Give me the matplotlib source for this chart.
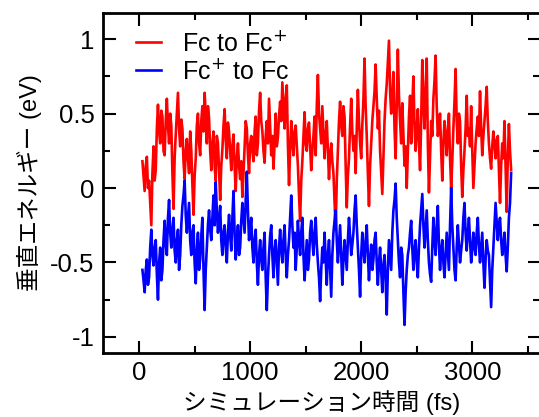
import numpy as np
import matplotlib
matplotlib.use("Agg")
import matplotlib.pyplot as plt
from matplotlib.ticker import MultipleLocator

plt.rcParams["font.family"] = ["Liberation Sans", "Noto Sans CJK JP", "DejaVu Sans"]

t_start_fs = 30
t_step_fs = 10

fc_to_fcp = [
    0.18, 0.08, -0.02, 0.15, 0.21, 0.00, 0.05, -0.10, -0.25, 0.10, 0.28, 0.05, 0.12, 0.40, 0.56, 0.38, 0.30, 0.52, 0.48, 0.25,
    0.22, 0.45, 0.60, 0.42, 0.30, 0.50, 0.42, 0.10, -0.14, 0.20, 0.36, 0.50, 0.64, 0.40, 0.28, 0.46, 0.40, 0.18, 0.06, 0.25,
    0.33, 0.20, 0.10, 0.38, 0.25, 0.02, -0.18, 0.08, 0.20, 0.42, 0.50, 0.30, 0.22, 0.45, 0.55, 0.38, 0.64, 0.50, 0.30, 0.55,
    0.47, 0.25, 0.12, 0.30, 0.38, 0.15, 0.05, 0.35, 0.30, 0.12, -0.08, 0.15, 0.26, 0.42, 0.53, 0.32, 0.20, 0.44, 0.38, 0.25,
    0.12, 0.28, 0.36, 0.15, -0.02, 0.20, 0.30, 0.15, 0.06, 0.18, -0.06, 0.10, 0.28, 0.45, 0.40, 0.22, 0.10, 0.30, 0.35, 0.25,
    0.18, 0.38, 0.48, 0.22, 0.30, 0.52, 0.64, 0.45, 0.38, 0.25, 0.17, 0.35, 0.45, 0.30, 0.60, 0.40, 0.22, 0.35, 0.13, 0.30,
    0.50, 0.28, 0.34, 0.48, 0.58, 0.45, 0.71, 0.55, 0.40, 0.60, 0.69, 0.30, 0.02, 0.25, 0.45, 0.32, 0.22, 0.38, 0.42, 0.28,
    0.15, -0.05, -0.22, 0.05, 0.18, 0.35, 0.51, 0.30, 0.25, 0.40, 0.44, 0.28, 0.12, 0.25, 0.35, 0.48, 0.22, 0.55, 0.76, 0.50,
    0.40, 0.30, 0.55, 0.38, 0.20, 0.35, 0.45, 0.25, 0.06, 0.22, 0.30, 0.18, 0.10, -0.10, -0.28, 0.05, 0.25, 0.45, 0.58, 0.42,
    0.35, 0.55, 0.48, 0.15, -0.13, 0.08, 0.20, 0.42, 0.60, 0.38, 0.25, 0.35, 0.10, 0.40, 0.66, 0.45, 0.30, 0.20, 0.42, 0.60,
    0.87, 0.55, 0.35, 0.10, -0.12, 0.15, 0.30, 0.45, 0.55, 0.65, 0.83, 0.60, 0.40, 0.52, 0.25, 0.10, -0.04, 0.20, 0.45, 0.60,
    0.70, 0.85, 0.99, 0.65, 0.50, 0.62, 0.78, 0.40, 0.20, 0.55, 0.93, 0.62, 0.45, 0.30, 0.57, 0.35, 0.15, 0.28, 0.00, 0.25,
    0.48, 0.62, 0.30, 0.55, 0.75, 0.42, 0.25, 0.40, 0.53, 0.30, 0.12, 0.45, 0.86, 0.60, 0.40, 0.65, 0.87, 0.30, -0.03, 0.20,
    0.45, 0.35, 0.60, 0.72, 0.89, 0.55, 0.35, 0.42, 0.50, 0.25, 0.05, 0.30, 0.45, 0.35, 0.22, 0.38, 0.50, 0.20, 0.00, 0.18,
    0.40, 0.58, 0.80, 0.45, 0.30, 0.50, 0.45, 0.15, -0.06, 0.12, 0.25, 0.40, 0.62, 0.35, 0.40, 0.28, 0.55, 0.25, 0.00, 0.15,
    0.30, 0.40, 0.48, 0.35, 0.65, 0.40, 0.22, 0.35, 0.45, 0.55, 0.68, 0.45, 0.30, 0.20, 0.13, 0.28, 0.38, 0.30, 0.20, 0.32,
    0.35, 0.12, -0.10, 0.15, 0.30, 0.20, 0.45, 0.15, -0.16, 0.20, 0.43, 0.25, 0.12,
]

fcp_to_fc = [
    -0.55, -0.62, -0.70, -0.55, -0.48, -0.65, -0.60, -0.40, -0.28, -0.45, -0.52, -0.40, -0.35, -0.58, -0.75, -0.50, -0.40, -0.62, -0.55, -0.35,
    -0.22, -0.38, -0.45, -0.20, -0.08, -0.30, -0.40, -0.28, -0.20, -0.42, -0.50, -0.35, -0.28, -0.55, -0.45, -0.25, -0.12, -0.05, 0.05, -0.18,
    -0.30, -0.20, -0.10, -0.35, -0.45, -0.30, -0.25, -0.50, -0.64, -0.42, -0.30, -0.55, -0.48, -0.32, -0.20, -0.55, -0.82, -0.55, -0.40, -0.25,
    -0.15, -0.28, -0.35, -0.20, -0.05, -0.25, 0.04, -0.15, -0.30, -0.22, -0.12, -0.35, -0.45, -0.30, -0.25, -0.40, -0.50, -0.30, -0.18, -0.32,
    -0.42, -0.20, -0.02, -0.30, -0.48, -0.35, -0.25, -0.45, -0.40, -0.22, -0.10, -0.20, -0.30, -0.08, 0.11, -0.15, -0.35, -0.28, -0.20, -0.40,
    -0.50, -0.35, -0.28, -0.50, -0.65, -0.45, -0.35, -0.48, -0.55, -0.40, -0.30, -0.60, -0.82, -0.60, -0.45, -0.32, -0.25, -0.45, -0.60, -0.42,
    -0.35, -0.50, -0.65, -0.40, -0.28, -0.42, -0.50, -0.35, -0.25, -0.45, -0.60, -0.45, -0.35, -0.20, -0.05, -0.25, -0.40, -0.30, -0.55, -0.40,
    -0.22, -0.35, -0.45, -0.30, -0.20, -0.45, -0.62, -0.48, -0.35, -0.55, -0.48, -0.30, -0.22, -0.35, -0.45, -0.30, -0.20, -0.38, -0.50, -0.60,
    -0.76, -0.55, -0.40, -0.50, -0.30, -0.48, -0.65, -0.45, -0.35, -0.55, -0.73, -0.45, -0.30, -0.22, -0.15, -0.35, -0.50, -0.38, -0.25, -0.45,
    -0.65, -0.48, -0.35, -0.45, -0.55, -0.35, -0.20, -0.32, -0.45, -0.38, -0.30, -0.15, -0.05, -0.25, -0.40, -0.55, -0.73, -0.45, -0.30, -0.42,
    -0.50, -0.35, -0.25, -0.45, -0.62, -0.48, -0.38, -0.55, -0.48, -0.35, -0.30, -0.50, -0.65, -0.50, -0.40, -0.55, -0.70, -0.52, -0.45, -0.62,
    -0.85, -0.55, -0.35, -0.45, -0.55, -0.30, -0.15, -0.08, 0.03, -0.20, -0.35, -0.50, -0.60, -0.40, -0.45, -0.70, -0.92, -0.70, -0.55, -0.45,
    -0.40, -0.30, -0.22, -0.40, -0.55, -0.42, -0.35, -0.50, -0.60, -0.40, -0.25, -0.15, -0.04, -0.25, -0.40, -0.28, -0.15, -0.35, -0.50, -0.58,
    -0.63, -0.40, -0.20, -0.35, -0.45, -0.25, -0.12, -0.38, -0.55, -0.42, -0.35, -0.50, -0.60, -0.45, -0.30, -0.42, -0.55, -0.25, 0.00, -0.25,
    -0.40, -0.55, -0.62, -0.40, -0.25, -0.38, -0.50, -0.42, -0.35, -0.20, -0.10, -0.30, -0.42, -0.30, -0.20, -0.35, -0.50, -0.42, -0.30, -0.38,
    -0.45, -0.30, -0.20, -0.38, -0.50, -0.40, -0.30, -0.50, -0.67, -0.48, -0.35, -0.42, -0.45, -0.62, -0.80, -0.55, -0.40, -0.25, -0.10, -0.22,
    -0.35, -0.25, -0.20, -0.35, -0.45, -0.38, -0.30, -0.45, -0.56, -0.40, -0.20, -0.10, 0.10,
]

labels = ["Fc to Fc$^{+}$", "Fc$^{+}$ to Fc"]

t_red = t_start_fs + t_step_fs * np.arange(len(fc_to_fcp))
t_blue = t_start_fs + t_step_fs * np.arange(len(fcp_to_fc))

W, H = 539, 417
fig = plt.figure(figsize=(W / 100, H / 100), dpi=100)
ax = fig.add_axes([103 / W, (H - 352.5) / H, (540 - 103) / W, (352.5 - 13.3) / H])

ax.plot(t_red, fc_to_fcp, color="#ff0000", lw=1.9, label=labels[0])
ax.plot(t_blue, fcp_to_fc, color="#0000ff", lw=1.9, label=labels[1])

ax.set_xlim(-325, 3610)
ax.set_ylim(-1.105, 1.174)
ax.xaxis.set_major_locator(MultipleLocator(1000))
ax.xaxis.set_minor_locator(MultipleLocator(500))
ax.yaxis.set_minor_locator(MultipleLocator(0.25))
ax.set_yticks([-1, -0.5, 0, 0.5, 1])
ax.set_yticklabels(["-1", "-0.5", "0", "0.5", "1"])

ax.tick_params(which="both", direction="in", top=True, right=True,
               labelsize=18.5, width=1.5, pad=6)
ax.tick_params(which="major", length=9)
ax.tick_params(which="minor", length=5)
for s in ax.spines.values():
    s.set_linewidth(2)

ax.set_xlabel("シミュレーション時間 (fs)", fontsize=17, labelpad=4)
ax.set_ylabel("垂直エネルギー (eV)", fontsize=17, labelpad=6)

ax.legend(loc="upper left", bbox_to_anchor=(0.036, 1.0), frameon=False,
          fontsize=18, handlelength=1.0, handletextpad=0.85,
          labelspacing=0.12, borderaxespad=0.3)

fig.savefig("out.png", dpi=100)
